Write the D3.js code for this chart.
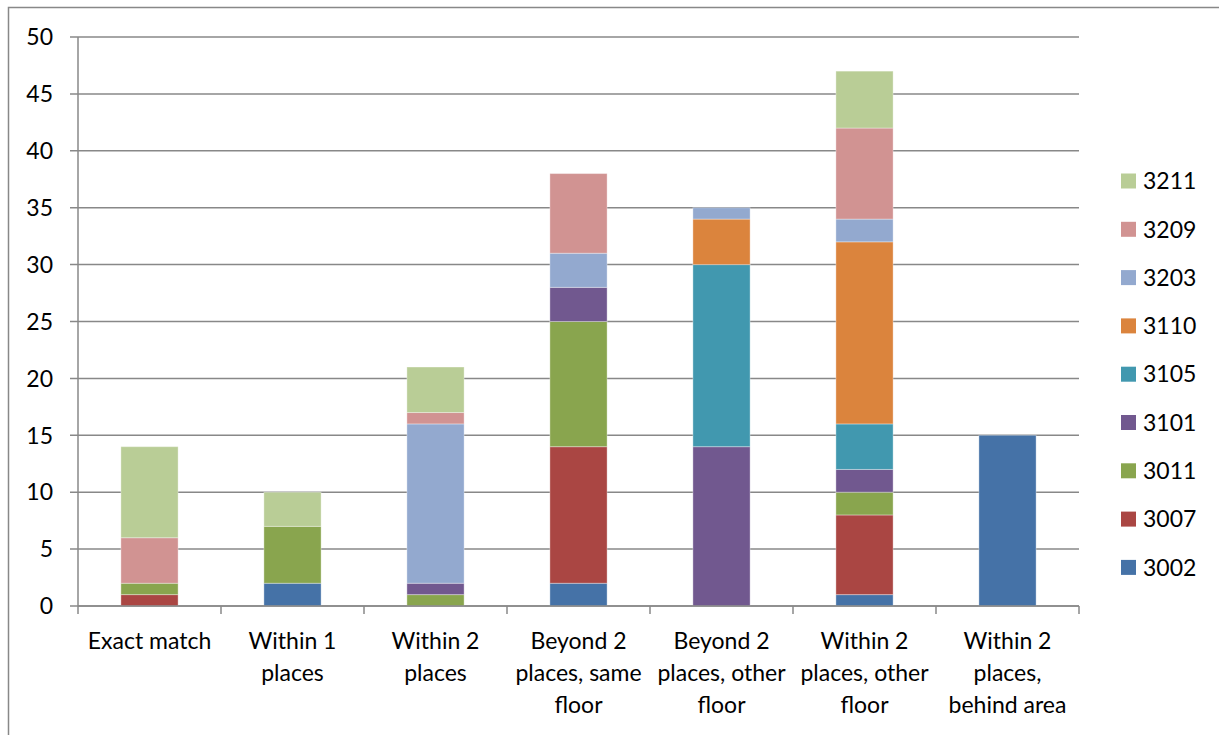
<!DOCTYPE html>
<html><head><meta charset="utf-8">
<script src="https://cdn.jsdelivr.net/npm/d3@7"></script>
<style>body{margin:0;background:#fff}svg{display:block}text{font-family:Lato,"Open Sans",sans-serif;fill:#000}</style>
</head><body><svg id="c" width="1219" height="735"></svg>
<script>
const categories = [["Exact match"],["Within 1","places"],["Within 2","places"],["Beyond 2","places, same","floor"],["Beyond 2","places, other","floor"],["Within 2","places, other","floor"],["Within 2","places,","behind area"]];
const seriesNames = ["3002","3007","3011","3101","3105","3110","3203","3209","3211"];
const colors = ["#4572A7","#AA4643","#89A54E","#71588F","#4198AF","#DB843D","#93A9CF","#D19392","#B9CD96"];
const s3002 = [0,2,0,2,0,1,15];
const s3007 = [1,0,0,12,0,7,0];
const s3011 = [1,5,1,11,0,2,0];
const s3101 = [0,0,1,3,14,2,0];
const s3105 = [0,0,0,0,16,4,0];
const s3110 = [0,0,0,0,4,16,0];
const s3203 = [0,0,14,3,1,2,0];
const s3209 = [4,0,1,7,0,8,0];
const s3211 = [8,3,4,0,0,5,0];
const yTicks = [0,5,10,15,20,25,30,35,40,45,50];
const seriesVals = [s3002,s3007,s3011,s3101,s3105,s3110,s3203,s3209,s3211];

const svg = d3.select("#c");
svg.append("rect").attr("x",8.5).attr("y",7.5).attr("width",1220).attr("height",740).attr("fill","none").attr("stroke","#888").attr("stroke-width",1.5);

const L=78,R=1079,T=37,B=606;
const x = d3.scaleBand().domain(d3.range(categories.length)).range([L,R]).paddingInner(0.6).paddingOuter(0.3);
const xb = d3.scaleBand().domain(d3.range(categories.length)).range([L,R]);
const y = d3.scaleLinear().domain([0,50]).range([B,T]);

// gridlines
svg.append("g").selectAll("line").data(yTicks).join("line")
 .attr("x1",L-8).attr("x2",R).attr("y1",d=>y(d)).attr("y2",d=>y(d))
 .attr("stroke","#888").attr("stroke-width",1.5);
svg.append("g").selectAll("text").data(yTicks).join("text")
 .attr("x",L-25).attr("y",d=>y(d)).attr("dy","0.36em").attr("text-anchor","end")
 .attr("font-size",23).text(d=>d);

// stacked bars
const table = categories.map((c,i)=>{const o={i}; seriesNames.forEach((s,k)=>o[s]=seriesVals[k][i]); return o;});
const stack = d3.stack().keys(seriesNames)(table);
svg.append("g").selectAll("g").data(stack).join("g").attr("fill",(d,k)=>colors[k])
 .selectAll("rect").data(d=>d.filter(p=>p[1]>p[0])).join("rect")
 .attr("x",p=>x(p.data.i)).attr("width",x.bandwidth())
 .attr("y",p=>y(p[1])).attr("height",p=>y(p[0])-y(p[1]))
 .attr("stroke","rgba(255,255,255,0.35)").attr("stroke-width",1);

// axes
svg.append("line").attr("x1",L).attr("x2",L).attr("y1",T).attr("y2",B).attr("stroke","#888").attr("stroke-width",1.5);
svg.append("line").attr("x1",L).attr("x2",R).attr("y1",B).attr("y2",B).attr("stroke","#888").attr("stroke-width",1.5);
svg.append("g").selectAll("line").data(d3.range(categories.length+1)).join("line")
 .attr("x1",i=>i<categories.length?xb(i):R).attr("x2",i=>i<categories.length?xb(i):R)
 .attr("y1",B).attr("y2",B+8).attr("stroke","#888").attr("stroke-width",1.5);

// category labels
const cl = svg.append("g").selectAll("text").data(categories).join("text")
 .attr("text-anchor","middle").attr("font-size",23)
 .attr("transform",(d,i)=>`translate(${xb(i)+xb.bandwidth()/2},${649})`);
cl.selectAll("tspan").data(d=>d).join("tspan").attr("x",0).attr("dy",(d,j)=>j?32:0).text(d=>d);

// legend
const lg = svg.append("g").selectAll("g").data(seriesNames.slice().reverse()).join("g")
 .attr("transform",(d,j)=>`translate(1121,${181+j*48.3})`);
lg.append("rect").attr("x",0).attr("y",-7.5).attr("width",15).attr("height",15)
 .attr("fill",d=>colors[seriesNames.indexOf(d)]);
lg.append("text").attr("x",22).attr("dy","0.36em").attr("font-size",23).text(d=>d);
</script></body></html>
